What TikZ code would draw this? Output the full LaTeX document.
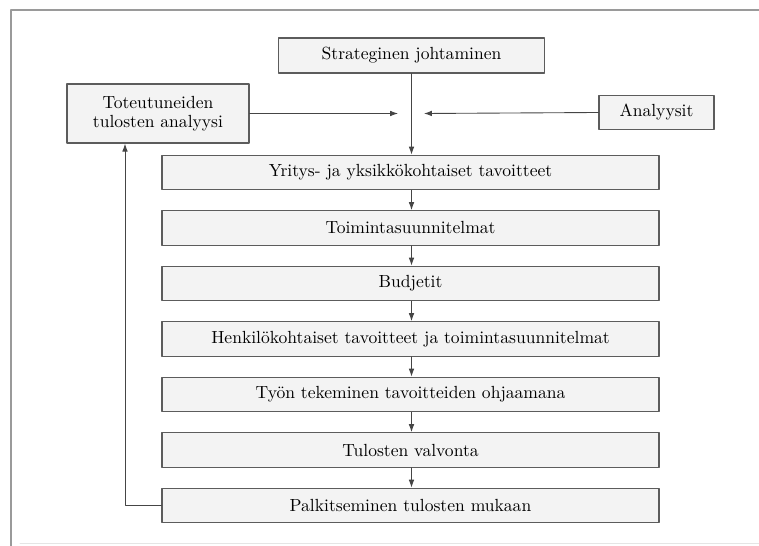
\documentclass[tikz,border=0pt]{standalone}
\usetikzlibrary{arrows.meta}
\definecolor{boxline}{HTML}{5C5C5C}
\definecolor{boxfill}{HTML}{F3F3F3}
\definecolor{arrowline}{HTML}{454545}
\definecolor{frameline}{HTML}{9A9A9A}
\begin{document}
\begin{tikzpicture}[x=0.02cm,y=-0.02cm,line cap=round,line join=round,
  stagebox/.style={draw=boxline,fill=boxfill,line width=0.7pt,inner sep=0pt,
    minimum width=9.94cm,minimum height=0.69cm,font=\normalsize},
  sidebox/.style={draw=boxline,fill=boxfill,line width=0.7pt,inner sep=0pt,align=center},
  flow/.style={draw=arrowline,line width=0.5pt,-{Latex[length=4.5pt,width=3.2pt]}}]
  \useasboundingbox (0,0) rectangle (759,546);
  % frame of the figure
  \draw[frameline,line width=0.8pt] (11,546) -- (11,10) -- (759,10);
  \draw[black!10,line width=0.5pt] (20,543) -- (759,543);
  % top and side boxes
  \node[sidebox,minimum width=5.32cm,minimum height=0.70cm] (strat) at (411.5,55.5) {Strateginen johtaminen};
  \node[sidebox,minimum width=3.64cm,minimum height=1.18cm] (tot) at (158,113.5) {Toteutuneiden\\[-1pt]tulosten analyysi};
  \node[sidebox,minimum width=2.30cm,minimum height=0.68cm] (anal) at (656.5,112.5) {Analyysit};
  % stages
  \foreach \n/\txt [count=\i from 0] in {
      y1/Yritys- ja yksikkökohtaiset tavoitteet,
      y2/Toimintasuunnitelmat,
      y3/Budjetit,
      y4/Henkilökohtaiset tavoitteet ja toimintasuunnitelmat,
      y5/Työn tekeminen tavoitteiden ohjaamana,
      y6/Tulosten valvonta,
      y7/Palkitseminen tulosten mukaan}
    \node[stagebox] (\n) at (410.5,172.5+55.5*\i) {\txt};
  % connectors
  \coordinate (inl) at (398,113.5);
  \coordinate (inr) at (424,113.5);
  \coordinate (fb) at (125,0);
  \draw[flow] (strat.south) -- (strat.south |- y1.north);
  \draw[flow] (tot.east) -- (inl);
  \draw[flow] (anal.west) -- (inr);
  \foreach \a/\b in {y1/y2,y2/y3,y3/y4,y4/y5,y5/y6,y6/y7}
    \draw[flow] (\a.south -| strat.south) -- (\b.north -| strat.south);
  \draw[flow] (y7.west) -| (fb |- tot.south);
\end{tikzpicture}
\end{document}
